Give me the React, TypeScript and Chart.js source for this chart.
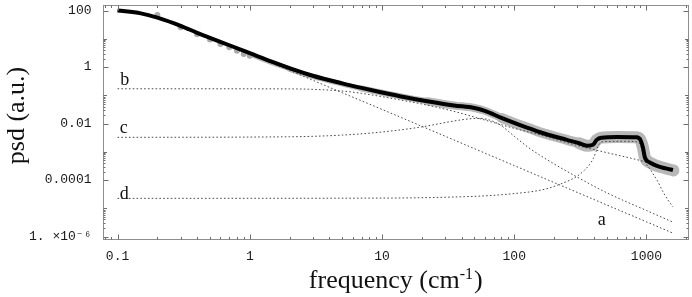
import React, { useEffect, useRef } from 'react';
import { Chart, registerables } from 'chart.js';

Chart.register(...registerables);

// ---- measured spectrum (grey) ----
const lowFreq = [0.2, 0.3, 0.4, 0.5, 0.6, 0.7, 0.8, 0.9, 1.0];
const lowPsd = [69.2, 25.4, 14.4, 9.5, 6.5, 4.98, 3.8, 2.9, 2.5];

const dataFreq = [1, 1.5, 2, 3, 5, 7, 10, 15, 22, 35, 50, 60, 80, 100, 130, 155, 250, 310, 360, 395, 420, 455, 600, 840, 900, 940, 970, 1000, 1060, 1200, 1400, 1600];
const dataPsd = [2.75, 1.32, 0.832, 0.457, 0.251, 0.174, 0.123, 0.0851, 0.0617, 0.0437, 0.0355, 0.0282, 0.0158, 0.0105, 0.00676, 0.00501, 0.00263, 0.002, 0.00162, 0.00178, 0.00263, 0.00316, 0.00331, 0.00324, 0.00263, 0.00141, 0.000661, 0.000501, 0.000417, 0.000316, 0.000257, 0.000219];

// ---- total fit (black) ----
const fitFreq = [0.1, 0.15, 0.2, 0.3, 0.4, 0.5, 0.7, 1, 1.5, 2, 3, 5, 7, 10, 15, 22, 35, 50, 60, 80, 100, 130, 155, 250, 310, 360, 395, 420, 455, 600, 840, 900, 940, 970, 1000, 1060, 1200, 1400, 1585];
const fitPsd = [100, 79.4, 56.2, 28.8, 16.2, 10.7, 5.89, 3.09, 1.48, 0.912, 0.49, 0.263, 0.182, 0.126, 0.0851, 0.0617, 0.0437, 0.0355, 0.0282, 0.0158, 0.0105, 0.00676, 0.00501, 0.00263, 0.002, 0.00162, 0.00178, 0.00263, 0.00316, 0.00331, 0.00324, 0.00263, 0.00141, 0.000661, 0.000501, 0.000417, 0.000316, 0.000257, 0.000224];

// ---- components (dotted) ----
const aFreq = [0.1, 0.15, 0.2, 0.3, 0.4, 0.5, 0.7, 1, 1.5, 2, 3, 5, 10, 30, 100, 300, 1000, 1585];
const aPsd = [97.7, 77.6, 55.0, 28.2, 15.8, 10.5, 5.75, 2.95, 1.32, 0.759, 0.339, 0.123, 0.0316, 0.00355, 0.000324, 3.63e-5, 3.31e-6, 1.32e-6];

const bFreq = [0.1, 2, 3, 5, 7, 10, 15, 20, 35, 56, 100, 150, 300, 500, 1000, 1585];
const bPsd = [0.17, 0.168, 0.162, 0.141, 0.117, 0.0891, 0.0631, 0.049, 0.0269, 0.0145, 0.00676, 0.00417, 0.00166, 0.000933, 0.000427, 0.000209];

const cFreq = [0.1, 2, 5, 10, 20, 34, 45, 55, 62, 70, 80, 100, 127, 155, 200, 300, 500, 1000, 1585];
const cPsd = [0.00324, 0.00339, 0.00389, 0.00501, 0.00759, 0.012, 0.0145, 0.0151, 0.0141, 0.0117, 0.00832, 0.00355, 0.00145, 0.000776, 0.000372, 0.000126, 3.55e-5, 8.32e-6, 3.24e-6];

const dFreq = [0.1, 10, 30, 60, 100, 150, 185, 230, 265, 300, 340, 370, 395, 415, 430, 450, 480, 700, 850, 890, 915, 940, 970, 1000, 1060, 1120, 1200, 1335, 1450, 1585];
const dPsd = [2.24e-5, 2.29e-5, 2.45e-5, 2.75e-5, 3.31e-5, 4.17e-5, 5.25e-5, 7.59e-5, 1.0e-4, 1.38e-4, 2.24e-4, 3.47e-4, 5.62e-4, 1.0e-3, 1.58e-3, 2.09e-3, 2.29e-3, 2.34e-3, 2.24e-3, 1.91e-3, 1.41e-3, 8.91e-4, 5.01e-4, 3.55e-4, 2.51e-4, 1.66e-4, 1.0e-4, 3.8e-5, 2.0e-5, 1.12e-5];

// ---- curve labels ----
const curveLabels = ['a', 'b', 'c', 'd'];
const curveLabelFreq = [428, 0.105, 0.104, 0.104];
const curveLabelPsd = [2.55e-6, 0.23, 0.0046, 2.1e-5];

// ---- axes ----
const xTicks = [0.1, 1, 10, 100, 1000];
const xTickLabels = ['0.1', '1', '10', '100', '1000'];
const yTicks = [1e-6, 1e-4, 1e-2, 1, 100];
const yTickLabels = ['1. ×10⁻⁶', '0.0001', '0.01', '1', '100'];
const xMin = 0.0783;
const xMax = 2061;
const yMin = 8.16e-7;
const yMax = 156.7;
const xTitle = 'frequency (cm';
const xTitleSup = '-1';
const yTitle = 'psd (a.u.)';

const pts = (fs: number[], vs: number[]) => fs.map((f, i) => ({ x: f, y: vs[i] }));

const decorPlugin = {
  id: 'decor',
  afterDraw(chart: any) {
    const { ctx, chartArea } = chart;
    const xs = chart.scales.x;
    const ys = chart.scales.y;
    const L = Math.floor(chartArea.left) + 0.5;
    const R = Math.floor(chartArea.right) + 0.5;
    const T = Math.floor(chartArea.top) + 0.5;
    const B = Math.floor(chartArea.bottom) + 0.5;
    ctx.save();
    ctx.strokeStyle = '#8e8e8e';
    ctx.lineWidth = 1;
    ctx.strokeRect(L, T, R - L, B - T);

    ctx.strokeStyle = '#6e6e6e';
    ctx.beginPath();
    for (let k = -2; k <= 3; k++) {
      for (let m = 1; m <= 9; m++) {
        const v = m * Math.pow(10, k);
        if (v < xMin || v > xMax) continue;
        const px = Math.round(xs.getPixelForValue(v)) + 0.5;
        const len = m === 1 ? 5 : 2.5;
        ctx.moveTo(px, B); ctx.lineTo(px, B - len);
        ctx.moveTo(px, T); ctx.lineTo(px, T + len);
      }
    }
    for (let k = -7; k <= 2; k++) {
      for (let m = 1; m <= 9; m++) {
        const v = m * Math.pow(10, k);
        if (v < yMin || v > yMax) continue;
        const even = k % 2 === 0;
        if (m > 1 && !even) continue;
        const py = Math.round(ys.getPixelForValue(v)) + 0.5;
        const len = m === 1 ? (even ? 5 : 3.5) : 2;
        ctx.moveTo(L, py); ctx.lineTo(L + len, py);
        ctx.moveTo(R, py); ctx.lineTo(R - len, py);
      }
    }
    ctx.stroke();

    ctx.fillStyle = '#111';
    ctx.font = '18px "Liberation Serif", serif';
    ctx.textAlign = 'left';
    ctx.textBaseline = 'alphabetic';
    curveLabels.forEach((t, i) => {
      ctx.fillText(t, xs.getPixelForValue(curveLabelFreq[i]), ys.getPixelForValue(curveLabelPsd[i]));
    });

    const mainFont = '26px "Liberation Serif", serif';
    const supFont = '16px "Liberation Serif", serif';
    ctx.font = mainFont;
    const w1 = ctx.measureText(xTitle).width;
    const w3 = ctx.measureText(')').width;
    ctx.font = supFont;
    const w2 = ctx.measureText(xTitleSup).width;
    const cx = (chartArea.left + chartArea.right) / 2;
    let sx = cx - (w1 + w2 + w3 + 1) / 2;
    const by = 287.5;
    ctx.font = mainFont;
    ctx.fillText(xTitle, sx, by);
    sx += w1;
    ctx.font = supFont;
    ctx.fillText(xTitleSup, sx, by - 9);
    sx += w2 + 1;
    ctx.font = mainFont;
    ctx.fillText(')', sx, by);

    ctx.save();
    ctx.translate(23.5, 115.5);
    ctx.rotate(-Math.PI / 2);
    ctx.textAlign = 'center';
    ctx.fillText(yTitle, 0, 0);
    ctx.restore();

    ctx.restore();
  },
};

export default function App() {
  const ref = useRef<HTMLCanvasElement>(null);
  useEffect(() => {
    const canvas = ref.current!;
    const dotted = (data: any) => ({
      data,
      borderColor: '#4a4a4a',
      borderWidth: 1,
      borderDash: [1.6, 2.2],
      pointRadius: 0,
      fill: false,
      cubicInterpolationMode: 'monotone',
      order: 1,
    });
    const chart = new Chart(canvas, {
      type: 'line',
      data: {
        datasets: [
          {
            data: pts(fitFreq, fitPsd),
            borderColor: '#000',
            borderWidth: 4,
            pointRadius: 0,
            fill: false,
            cubicInterpolationMode: 'monotone',
            order: 0,
          } as any,
          dotted(pts(aFreq, aPsd)),
          dotted(pts(bFreq, bPsd)),
          dotted(pts(cFreq, cPsd)),
          dotted(pts(dFreq, dPsd)),
          {
            data: pts(lowFreq, lowPsd),
            showLine: false,
            pointRadius: 3,
            pointBackgroundColor: '#ababab',
            pointBorderWidth: 0,
            order: 2,
          } as any,
          {
            data: pts(dataFreq, dataPsd),
            borderColor: '#b8b8b8',
            borderCapStyle: 'round',
            borderJoinStyle: 'round',
            pointRadius: 0,
            fill: false,
            cubicInterpolationMode: 'monotone',
            borderWidth: 8,
            segment: {
              borderWidth: (c: any) => {
                const f = c.p0.parsed.x;
                return f < 2 ? 4 : f < 6 ? 5 : f < 20 ? 6 : f < 70 ? 8 : f < 300 ? 10 : 12;
              },
            },
            order: 3,
          } as any,
        ],
      },
      options: {
        responsive: false,
        animation: false,
        devicePixelRatio: 1,
        layout: { padding: { left: 0, top: 5, right: 3.5, bottom: 0 } },
        plugins: { legend: { display: false }, tooltip: { enabled: false }, title: { display: false } },
        events: [],
        scales: {
          x: {
            type: 'logarithmic',
            position: 'bottom',
            min: xMin,
            max: xMax,
            grid: { display: false, drawTicks: false },
            border: { display: false },
            afterBuildTicks: (s: any) => {
              s.ticks = xTicks.map((v) => ({ value: v }));
            },
            afterFit: (s: any) => {
              s.height = 58;
              s.paddingLeft = 0;
              s.paddingRight = 0;
            },
            ticks: {
              autoSkip: false,
              maxRotation: 0,
              minRotation: 0,
              padding: 10,
              color: '#1a1a1a',
              font: { family: '"Liberation Mono", monospace', size: 13 },
              callback: (_v: any, i: number) => xTickLabels[i],
            },
          },
          y: {
            type: 'logarithmic',
            position: 'left',
            min: yMin,
            max: yMax,
            grid: { display: false, drawTicks: false },
            border: { display: false },
            afterBuildTicks: (s: any) => {
              s.ticks = yTicks.map((v) => ({ value: v }));
            },
            afterFit: (s: any) => {
              s.width = 103.5;
              s.paddingTop = 0;
              s.paddingBottom = 0;
            },
            ticks: {
              autoSkip: false,
              padding: 12,
              color: '#1a1a1a',
              font: { family: '"Liberation Mono", monospace', size: 13 },
              callback: (_v: any, i: number) => yTickLabels[i],
            },
          },
        },
      } as any,
      plugins: [decorPlugin],
    });
    return () => chart.destroy();
  }, []);
  return (
    <div style={{ position: 'absolute', left: 0, top: 0, width: 692, height: 297, background: '#fff' }}>
      <canvas ref={ref} width={692} height={297} style={{ display: 'block', width: 692, height: 297 }} />
    </div>
  );
}
